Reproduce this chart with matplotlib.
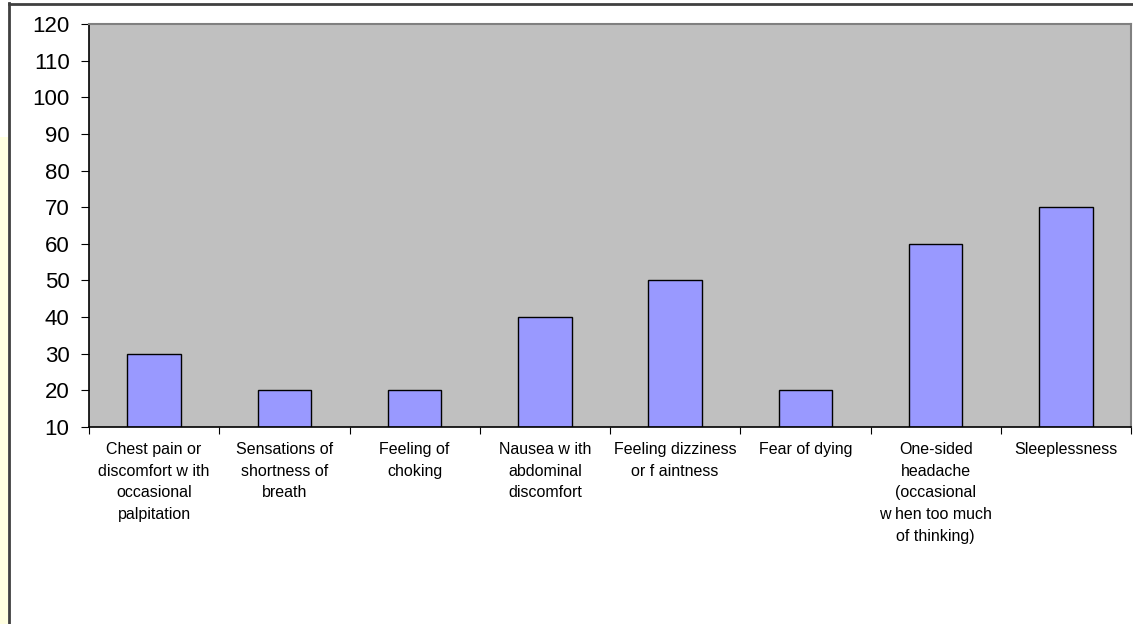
import numpy as np
import matplotlib
matplotlib.use("Agg")
import matplotlib.pyplot as plt
from matplotlib.patches import Rectangle
from matplotlib.lines import Line2D

# DATA
categories = [
    "Chest pain or\ndiscomfort w ith\noccasional\npalpitation",
    "Sensations of\nshortness of\nbreath",
    "Feeling of\nchoking",
    "Nausea w ith\nabdominal\ndiscomfort",
    "Feeling dizziness\nor f aintness",
    "Fear of dying",
    "One-sided\nheadache\n(occasional\nw hen too much\nof thinking)",
    "Sleeplessness",
]
values = [30, 20, 20, 40, 50, 20, 60, 70]
y_ticks = list(range(10, 121, 10))

plt.rcParams['font.family'] = ['Liberation Sans', 'DejaVu Sans']

fig = plt.figure(figsize=(11.33, 6.24), dpi=100)
W, H = 1133, 624

# yellow strip on the left and the outer frame lines
fig.patches.append(Rectangle((0, 0), 8 / W, 1 - 137 / H, transform=fig.transFigure,
                             facecolor='#FFFFE0', edgecolor='none'))
fig.lines.append(Line2D([8.5 / W, 8.5 / W], [0, 1 - 3 / H], transform=fig.transFigure,
                        color='#404040', linewidth=2))
fig.lines.append(Line2D([8.5 / W, 1], [1 - 3.5 / H, 1 - 3.5 / H], transform=fig.transFigure,
                        color='#404040', linewidth=2))

left, right, top, bottom = 89, 1131, 24, 427
ax = fig.add_axes([left / W, 1 - bottom / H, (right - left) / W, (bottom - top) / H])
ax.set_facecolor('#C0C0C0')

x = np.arange(len(categories))
ax.bar(x, np.array(values) - 10, bottom=10, width=0.41, color='#9999FF',
       edgecolor='black', linewidth=1)

ax.set_xlim(-0.5, len(categories) - 0.5)
ax.set_ylim(10, 120)
ax.set_yticks(y_ticks)
ax.set_yticklabels([str(v) for v in y_ticks], fontsize=16)
ax.set_xticks(np.arange(len(categories) + 1) - 0.5)
ax.set_xticklabels([])
ax.set_xticks(x, minor=True)
ax.set_xticklabels(categories, minor=True, fontsize=11.5, linespacing=1.55, va='top')
ax.tick_params(axis='x', which='minor', length=0, pad=11)
ax.tick_params(axis='x', which='major', length=5, direction='out', color='black')
ax.tick_params(axis='y', length=6, direction='out', color='black', pad=8)

for side in ['left', 'bottom']:
    ax.spines[side].set_color('black')
    ax.spines[side].set_linewidth(1.2)
for side in ['top', 'right']:
    ax.spines[side].set_color('#808080')
    ax.spines[side].set_linewidth(1.5)

fig.savefig('out.png', dpi=100, facecolor='white')
